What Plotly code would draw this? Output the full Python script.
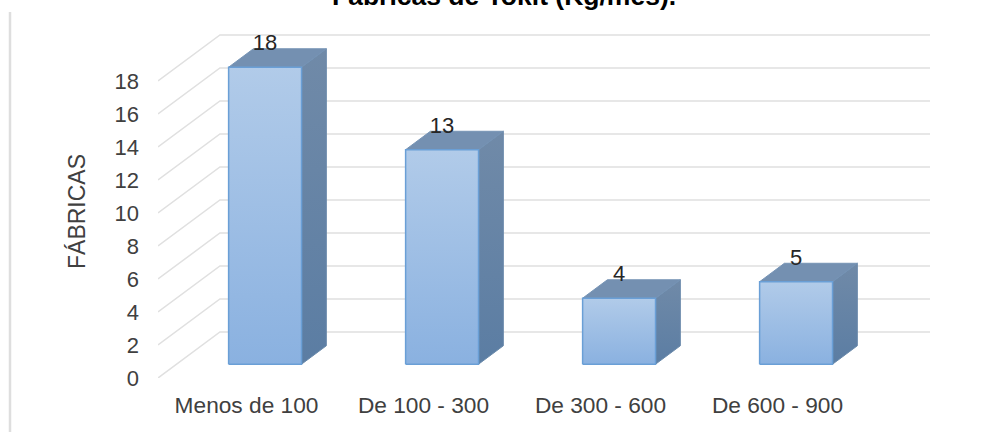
import plotly.graph_objects as go

categories = ["Menos de 100", "De 100 - 300", "De 300 - 600", "De 600 - 900"]
values = [18, 13, 4, 5]
y_ticks = [0, 2, 4, 6, 8, 10, 12, 14, 16, 18]
title_text = "Fábricas de Tokit (Kg/mes)."
y_title = "FÁBRICAS"

W, H = 981, 432
L, R, B, T = 158, 930, 378, 30
CAT = 177.0
UNIT = 16.5
x_range = [-0.5, (R - L) / CAT - 0.5]
y_range = [0, (B - T) / UNIT]

WALL_DX = 0.35
WALL_DY = 2.79
FRONT = 0.30
BACK = 0.70
HALF = 0.206

fig = go.Figure()
GRID = "#e0e0e0"
gx, gy = [], []
for t in y_ticks:
    gx += [-0.5, -0.5 + WALL_DX, x_range[1], None]
    gy += [t, t + WALL_DY, t + WALL_DY, None]
fig.add_trace(go.Scatter(x=gx, y=gy, mode="lines", line=dict(color=GRID, width=1.5),
                         hoverinfo="skip", showlegend=False))


def grad(stops):
    return dict(type="vertical", colorscale=stops)


for i, v in enumerate(values):
    x0 = i - HALF + FRONT * WALL_DX
    x1 = i + HALF + FRONT * WALL_DX
    bx = (BACK - FRONT) * WALL_DX
    y0 = FRONT * WALL_DY
    y1 = v + y0
    by = (BACK - FRONT) * WALL_DY
    # side face
    fig.add_trace(go.Scatter(
        x=[x1, x1 + bx, x1 + bx, x1, x1], y=[y0, y0 + by, y1 + by, y1, y0],
        mode="lines", fill="toself", line=dict(color="#6a8aab", width=1),
        fillgradient=grad([[0, "#5b7da3"], [1, "#708aa8"]]),
        hoverinfo="skip", showlegend=False))
    # top face
    fig.add_trace(go.Scatter(
        x=[x0, x1, x1 + bx, x0 + bx, x0], y=[y1, y1, y1 + by, y1 + by, y1],
        mode="lines", fill="toself", line=dict(color="#7593b5", width=1),
        fillcolor="#7490b1", hoverinfo="skip", showlegend=False))
    # front face
    fig.add_trace(go.Scatter(
        x=[x0, x1, x1, x0, x0], y=[y0, y0, y1, y1, y0],
        mode="lines", fill="toself", line=dict(color="#6a9fd6", width=1.5),
        fillgradient=grad([[0, "#8ab1e0"], [1, "#b1cbe9"]]),
        hoverinfo="skip", showlegend=False))

fig.add_trace(go.Scatter(
    x=[i + FRONT * WALL_DX for i in range(len(values))],
    y=[v + FRONT * WALL_DY + 1.37 for v in values],
    text=[str(v) for v in values], mode="text",
    textfont=dict(family="Liberation Sans", size=22, color="#262626"),
    hoverinfo="skip", showlegend=False))

fig.add_shape(type="line", xref="paper", yref="paper",
              x0=(10 - L) / (R - L), x1=(10 - L) / (R - L),
              y0=(B - H) / (B - T), y1=(B - 12) / (B - T),
              line=dict(color="#dedede", width=2.5))

fig.add_annotation(text=f"<b>{title_text}</b>", xref="paper", yref="paper",
                   x=(504 - L) / (R - L), y=(B + 4) / (B - T), xanchor="center", yanchor="middle",
                   showarrow=False,
                   font=dict(family="Liberation Sans", size=26.5, color="#000000"))
fig.add_annotation(text=y_title, xref="paper", yref="paper", textangle=-90,
                   x=(77 - L) / (R - L), y=(B - 212) / (B - T), xanchor="center", yanchor="middle",
                   showarrow=False, font=dict(family="Liberation Sans", size=23, color="#404040"))

fig.update_layout(
    width=W, height=H,
    margin=dict(l=L, r=W - R, t=T, b=H - B, autoexpand=False),
    plot_bgcolor="white", paper_bgcolor="white",
    font=dict(family="Liberation Sans", color="#404040"),
    xaxis=dict(range=x_range, tickmode="array", tickvals=list(range(len(categories))),
               ticktext=categories, showgrid=False, zeroline=False, showline=False,
               ticks="", tickfont=dict(size=22.7), ticklabelstandoff=11),
    yaxis=dict(range=y_range, tickmode="array", tickvals=y_ticks, showgrid=False,
               zeroline=False, showline=False, ticks="", tickfont=dict(size=22),
               ticklabelstandoff=18),
)
fig.write_html("out.html", post_script="document.body.style.margin='0';",
               config=dict(displayModeBar=False))
